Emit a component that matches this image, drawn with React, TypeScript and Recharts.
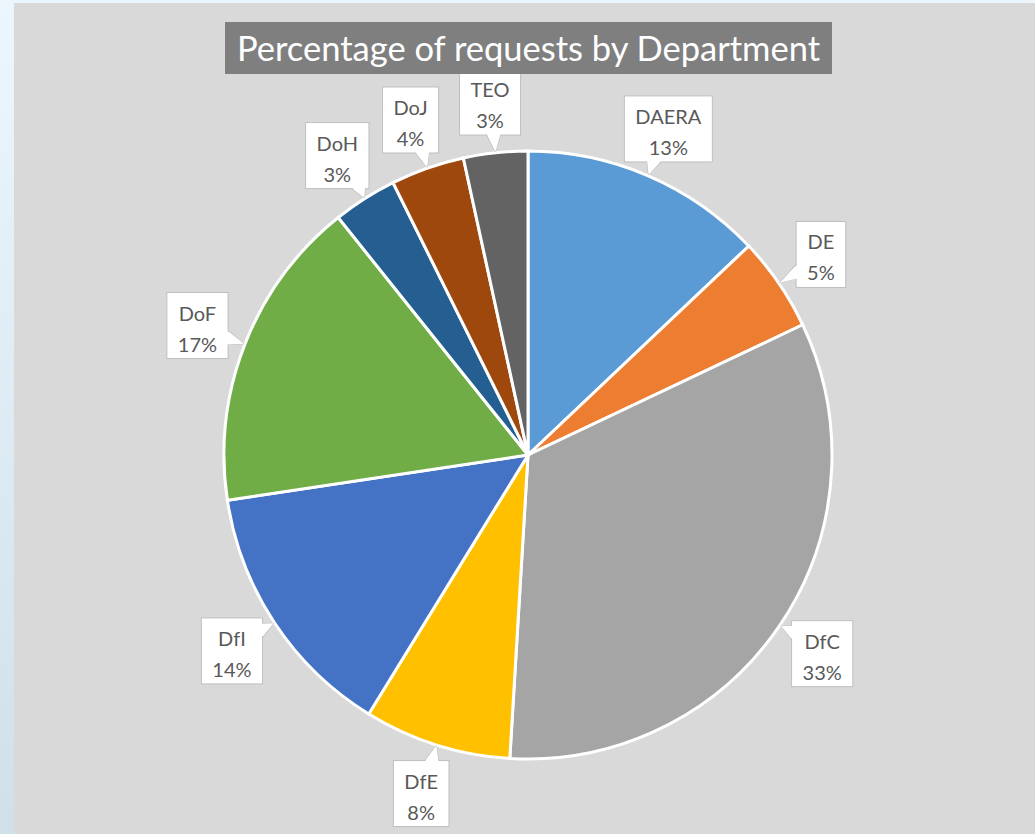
import React from 'react';
import { PieChart, Pie, Cell } from 'recharts';

const departments = ['DAERA', 'DE', 'DfC', 'DfE', 'DfI', 'DoF', 'DoH', 'DoJ', 'TEO'];
const shares = [12.9, 5.0, 32.9, 7.8, 13.8, 16.6, 3.4, 3.9, 3.4];
const colors = ['#5b9bd5', '#ed7d31', '#a5a5a5', '#ffc000', '#4472c4', '#70ad47', '#255e91', '#9e480e', '#636363'];

const chartData = departments.map((name, i) => ({ name, value: shares[i] }));

const FONT = 'Lato, "Open Sans", sans-serif';
const RAD = Math.PI / 180;

let ctx: CanvasRenderingContext2D | null = null;
function textWidth(s: string) {
  if (!ctx) ctx = document.createElement('canvas').getContext('2d');
  if (!ctx) return s.length * 10;
  ctx.font = `20px ${FONT}`;
  return ctx.measureText(s).width;
}

// callout style label like excel
function CalloutLabel(props: any) {
  const { cx, cy, midAngle, outerRadius, percent, name } = props;
  const pct = `${Math.round(percent * 100)}%`;
  const cos = Math.cos(-midAngle * RAD);
  const sin = Math.sin(-midAngle * RAD);
  const bx = cx + (outerRadius + 51) * cos;
  const by = cy + (outerRadius + 51) * sin;
  const ax = cx + (outerRadius + 1) * cos;
  const ay = cy + (outerRadius + 1) * sin;

  const w = Math.max(46, Math.max(textWidth(name), textWidth(pct)) + 22);
  const h = 66;
  const x0 = bx - w / 2;
  const y0 = by - h / 2;
  const x1 = x0 + w;
  const y1 = y0 + h;

  // pick the side of the box facing the anchor point
  const dx = ax - bx;
  const dy = ay - by;
  let b1: number[];
  let b2: number[];
  let f1: number[];
  let f2: number[];
  const clamp = (v: number, lo: number, hi: number) => Math.min(hi, Math.max(lo, v));
  if (Math.abs(dx) / (w / 2) > Math.abs(dy) / (h / 2)) {
    const sx = dx > 0 ? x1 : x0;
    const t = clamp(by + (dy * (w / 2)) / Math.abs(dx), y0 + 9, y1 - 9);
    b1 = [sx, t - 7];
    b2 = [sx, t + 7];
    const inset = dx > 0 ? -1.5 : 1.5;
    f1 = [sx + inset, t - 7];
    f2 = [sx + inset, t + 7];
  } else {
    const sy = dy > 0 ? y1 : y0;
    const t = clamp(bx + (dx * (h / 2)) / Math.abs(dy), x0 + 9, x1 - 9);
    b1 = [t - 7, sy];
    b2 = [t + 7, sy];
    const inset = dy > 0 ? -1.5 : 1.5;
    f1 = [t - 7, sy + inset];
    f2 = [t + 7, sy + inset];
  }

  return (
    <g>
      <polygon points={`${b1.join(',')} ${ax},${ay} ${b2.join(',')}`} fill="#ffffff" stroke="#bfbfbf" strokeWidth={1} />
      <rect x={x0} y={y0} width={w} height={h} fill="#ffffff" stroke="#bfbfbf" strokeWidth={1} />
      <polygon points={`${f1.join(',')} ${ax},${ay} ${f2.join(',')}`} fill="#ffffff" stroke="none" />
      <text x={bx} y={y0 + 28} textAnchor="middle" fontFamily={FONT} fontSize={20} fill="#595959">
        {name}
      </text>
      <text x={bx} y={y0 + 59} textAnchor="middle" fontFamily={FONT} fontSize={20} fill="#595959">
        {pct}
      </text>
    </g>
  );
}

export default function App() {
  return (
    <div
      style={{
        position: 'absolute',
        left: 0,
        top: 0,
        width: 1035,
        height: 834,
        overflow: 'hidden',
        background: 'linear-gradient(#ecf6fe, #cfe0e9)',
      }}
    >
      <div style={{ position: 'absolute', left: 14, top: 3, width: 1021, height: 831, background: '#d9d9d9' }}>
        <PieChart width={1021} height={831} margin={{ top: 0, right: 0, bottom: 0, left: 0 }}>
          <Pie
            data={chartData}
            dataKey="value"
            nameKey="name"
            cx={514}
            cy={452}
            outerRadius={304}
            startAngle={90}
            endAngle={-270}
            stroke="#ffffff"
            strokeWidth={3}
            labelLine={false}
            label={CalloutLabel}
            isAnimationActive={false}
          >
            {chartData.map((d, i) => (
              <Cell key={d.name} fill={colors[i]} />
            ))}
          </Pie>
        </PieChart>
        <div
          style={{
            position: 'absolute',
            left: 211,
            top: 19,
            width: 607,
            height: 52,
            background: '#7f7f7f',
            color: '#ffffff',
            fontFamily: FONT,
            fontSize: 34.5,
            lineHeight: '52px',
            textAlign: 'center',
            whiteSpace: 'nowrap',
          }}
        >
          Percentage of requests by Department
        </div>
      </div>
    </div>
  );
}
